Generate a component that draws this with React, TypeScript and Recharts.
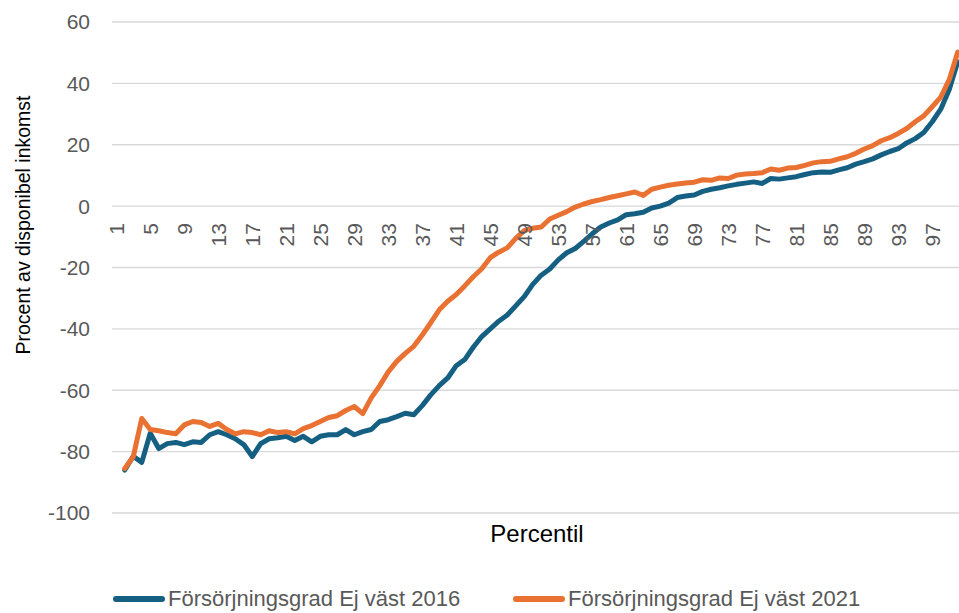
import { LineChart, Line, XAxis, YAxis, CartesianGrid, Legend } from "recharts";

// percentil 1..100 (kategorier)
const percentiles = Array.from({ length: 100 }, (_, i) => String(i + 1));
const xTicks = ["1", "5", "9", "13", "17", "21", "25", "29", "33", "37", "41", "45", "49", "53", "57", "61", "65", "69", "73", "77", "81", "85", "89", "93", "97"];
const yTicks = [-100, -80, -60, -40, -20, 0, 20, 40, 60];

// Försörjningsgrad Ej väst 2016 (percentil 1 saknas)
const ejVast2016 = [
  null, -86, -81.5, -83.5, -74, -79, -77.4, -77, -77.7, -76.8,
  -77, -74.5, -73.5, -74.5, -75.8, -77.7, -81.6, -77.4, -75.8, -75.5,
  -75, -76.4, -75, -76.8, -75, -74.5, -74.5, -72.8, -74.5, -73.5,
  -72.8, -70.2, -69.6, -68.6, -67.5, -68, -65, -61.5, -58.5, -56,
  -52, -50, -46, -42.5, -40, -37.5, -35.5, -32.5, -29.5, -25.5,
  -22.5, -20.5, -17.5, -15.2, -13.8, -11.5, -9, -6.8, -5.5, -4.5,
  -2.8, -2.5, -2, -0.6, 0, 1, 2.8, 3.3, 3.6, 4.8,
  5.5, 6, 6.6, 7.1, 7.5, 7.9, 7.4, 9, 8.8, 9.2,
  9.6, 10.3, 10.9, 11.1, 11, 11.8, 12.5, 13.7, 14.5, 15.4,
  16.7, 17.8, 18.7, 20.6, 22, 24, 27.5, 31.6, 38, 47,
];

// Försörjningsgrad Ej väst 2021
const ejVast2021 = [
  null, -85.5, -81.7, -69.2, -72.8, -73.2, -73.8, -74.2, -71.3, -70.2,
  -70.5, -71.8, -70.8, -72.8, -74.2, -73.5, -73.8, -74.5, -73.2, -73.8,
  -73.5, -74.2, -72.5, -71.5, -70.2, -68.9, -68.3, -66.6, -65.3, -67.6,
  -62.5, -58.5, -54, -50.6, -48, -45.7, -42, -38, -33.8, -31,
  -28.8, -26, -23, -20.4, -16.8, -15, -13.6, -10.5, -8, -7.2,
  -6.8, -4.2, -3, -1.8, -0.3, 0.7, 1.5, 2.1, 2.8, 3.4,
  4, 4.6, 3.5, 5.5, 6.2, 6.8, 7.2, 7.5, 7.8, 8.6,
  8.4, 9.2, 9, 10.1, 10.5, 10.6, 10.9, 12.1, 11.7, 12.4,
  12.6, 13.3, 14.1, 14.5, 14.6, 15.4, 16.1, 17.2, 18.6, 19.7,
  21.3, 22.3, 23.7, 25.3, 27.5, 29.4, 32.4, 35.5, 41.2, 50.2,
];

const series = [
  { key: "v2016", name: "Försörjningsgrad Ej väst 2016", color: "#156082" },
  { key: "v2021", name: "Försörjningsgrad Ej väst 2021", color: "#E97132" },
];

const data = percentiles.map((p, i) => ({ p, v2016: ejVast2016[i], v2021: ejVast2021[i] }));

// ── layout ──
const FONT = '"Liberation Sans", Arial, sans-serif';
const CHART_W = 970;
const CHART_H = 613;
const MARGIN = { top: 22, right: 8, bottom: 2, left: 0 };
const Y_AXIS_W = 112;
const X_AXIS_H = 74;
const LEGEND_H = 24;
const Y_MIN = -100;
const Y_MAX = 60;
const PLOT_H = CHART_H - MARGIN.top - MARGIN.bottom - X_AXIS_H - LEGEND_H;
// the category labels sit under the zero line, like Excel's crossing axis
const ZERO_Y = MARGIN.top + (PLOT_H * (Y_MAX - 0)) / (Y_MAX - Y_MIN);

function XTick({ x, payload }: any) {
  return (
    <text
      x={0}
      y={0}
      transform={`translate(${x},${ZERO_Y + 17}) rotate(-90)`}
      textAnchor="end"
      dominantBaseline="central"
      fill="#595959"
      fontSize={21}
      fontFamily={FONT}
    >
      {payload.value}
    </text>
  );
}

function YTitle() {
  return (
    <text
      transform={`translate(23,225) rotate(-90)`}
      textAnchor="middle"
      dominantBaseline="central"
      fill="#000"
      fontSize={19.5}
      fontFamily={FONT}
    >
      Procent av disponibel inkomst
    </text>
  );
}

const legendLeft = [113, 513];

function LegendContent() {
  return (
    <div style={{ position: "relative", width: 959, height: LEGEND_H, fontFamily: FONT }}>
      {series.map((s, i) => (
        <div
          key={s.key}
          style={{
            position: "absolute",
            left: legendLeft[i],
            top: 0,
            height: LEGEND_H,
            display: "flex",
            alignItems: "center",
            whiteSpace: "nowrap",
          }}
        >
          <span style={{ display: "inline-block", width: 52, height: 6, borderRadius: 3, background: s.color, marginRight: 3 }} />
          <span style={{ fontSize: 22, lineHeight: "24px", color: "#595959" }}>{s.name}</span>
        </div>
      ))}
    </div>
  );
}

export default function App() {
  return (
    <div style={{ position: "fixed", left: 0, top: 0, width: 959, height: 613, overflow: "hidden", background: "#fff" }}>
      <LineChart width={CHART_W} height={CHART_H} data={data} margin={MARGIN}>
        <CartesianGrid vertical={false} stroke="#D9D9D9" strokeWidth={1.3} />
        <XAxis
          dataKey="p"
          type="category"
          scale="band"
          ticks={xTicks}
          interval={0}
          height={X_AXIS_H}
          axisLine={false}
          tickLine={false}
          tick={<XTick />}
          label={{ value: "Percentil", position: "insideTop", offset: 12, fill: "#000", fontSize: 24, fontFamily: FONT }}
        />
        <YAxis
          type="number"
          domain={[Y_MIN, Y_MAX]}
          ticks={yTicks}
          interval={0}
          width={Y_AXIS_W}
          axisLine={false}
          tickLine={false}
          tickSize={0}
          tickMargin={22}
          tick={{ fill: "#595959", fontSize: 21, fontFamily: FONT }}
          label={<YTitle />}
        />
        {series.map((s) => (
          <Line
            key={s.key}
            type="linear"
            dataKey={s.key}
            name={s.name}
            stroke={s.color}
            strokeWidth={5}
            strokeLinecap="round"
            strokeLinejoin="round"
            dot={false}
            activeDot={false}
            isAnimationActive={false}
          />
        ))}
        <Legend verticalAlign="bottom" height={LEGEND_H} wrapperStyle={{ left: 0, width: 959 }} content={<LegendContent />} />
      </LineChart>
    </div>
  );
}
